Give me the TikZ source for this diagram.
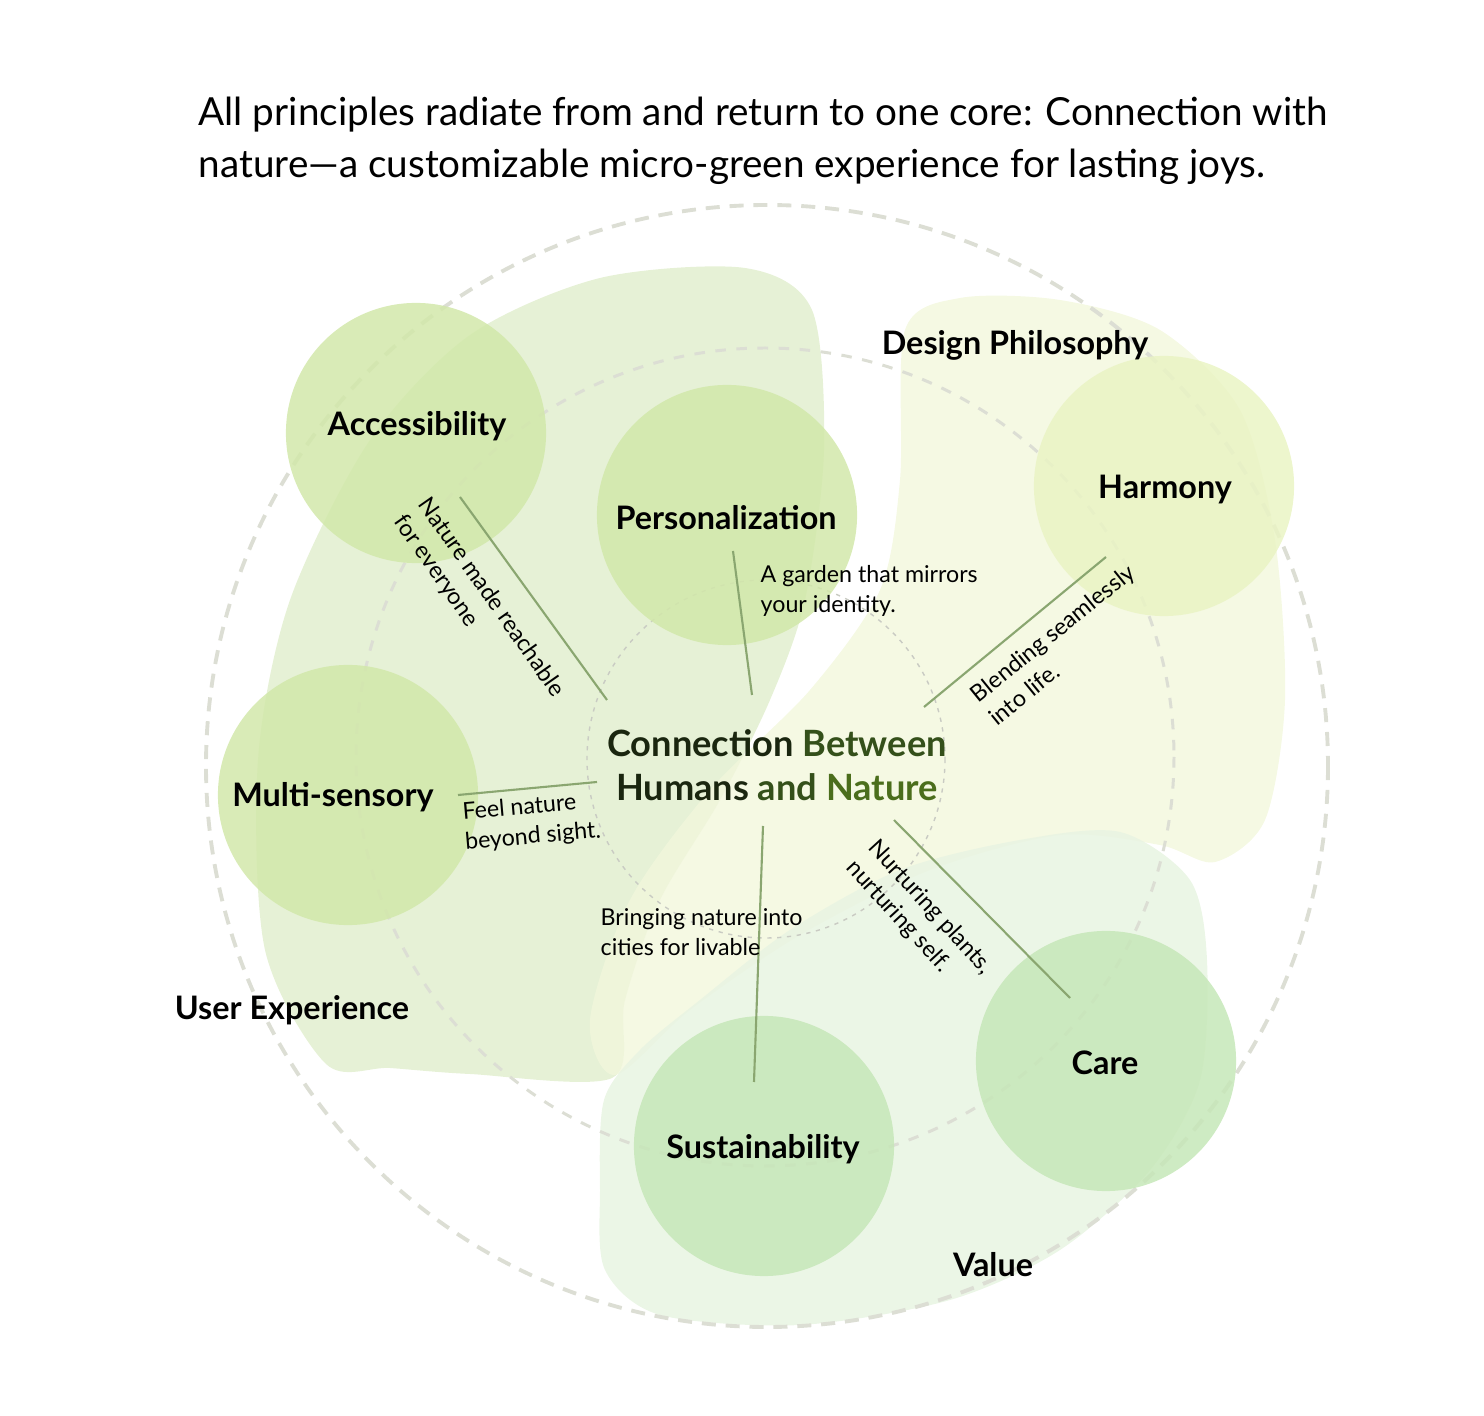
\documentclass[tikz,border=0pt]{standalone}
\usepackage{fontspec}
\setmainfont{Lato}
\usepackage{xcolor}
\usetikzlibrary{positioning}

\definecolor{ringgray}{HTML}{DCDED4}
\definecolor{spokegreen}{HTML}{8AA670}
\definecolor{leaf}{HTML}{D2E8AA}
\definecolor{lime}{HTML}{EAF4C4}
\definecolor{moss}{HTML}{C6E7B8}
\definecolor{blobux}{HTML}{E6F1D6}
\definecolor{blobdp}{HTML}{F2F7DC}
\definecolor{blobval}{HTML}{E8F4E2}
\definecolor{coredark}{HTML}{1A260F}
\definecolor{coremid}{HTML}{34501A}
\definecolor{corelight}{HTML}{4B6E1C}

\newcommand{\titlefont}{\fontsize{11}{14.8}\selectfont}
\newcommand{\pillarfont}{\bfseries\fontsize{9.2}{11}\selectfont}
\newcommand{\corefont}{\bfseries\fontsize{10.3}{12.5}\selectfont}
\newcommand{\notefont}{\fontsize{6.6}{8.5}\selectfont}

\begin{document}
\begin{tikzpicture}[x=0.01cm,y=-0.01cm,
  ring/.style={draw=ringgray,line width=1.1pt,dash pattern=on 4pt off 2.8pt},
  pillar/.style={circle,fill=#1,fill opacity=.85,minimum size=2.6cm,inner sep=0pt},
  tag/.style={font=\pillarfont,text=black},
  spoke/.style={draw=spokegreen,line width=.6pt},
  note/.style={font=\notefont,align=left,anchor=north west,inner sep=0pt},
  realm/.style={font=\pillarfont,text=black}]
  \useasboundingbox (0,0) rectangle (1484,1416);

  % soft background regions
  \fill[blobux] plot[smooth cycle] coordinates {(326,1064) (265,950) (258,760) (290,600)
    (370,440) (470,335) (600,278) (745,268) (812,310) (824,450) (805,600) (770,700)
    (720,800) (660,900) (625,1000) (612,1078) (470,1074) (390,1068)};
  \fill[blobdp,fill opacity=.8] plot[smooth cycle] coordinates {(905,330) (960,298) (1060,300)
    (1160,330) (1240,410) (1275,540) (1285,700) (1265,820) (1215,862) (1160,845)
    (1060,835) (930,870) (800,935) (690,1010) (615,1075) (590,1020) (630,900)
    (710,790) (810,690) (880,590) (900,480)};
  \fill[blobval,fill opacity=.85] plot[smooth cycle] coordinates {(790,930) (900,870) (1020,840)
    (1120,832) (1190,880) (1207,960) (1200,1080) (1150,1170) (1060,1250) (950,1300)
    (800,1325) (660,1315) (605,1270) (600,1190) (604,1100) (640,1050) (700,1000)};

  % rings
  \draw[ring] (767,766) circle (561);
  \draw[ring,line width=.85pt,dash pattern=on 3pt off 3pt] (765,757) circle (409);
  \draw[ringgray!80!gray,line width=.4pt,dash pattern=on 1.2pt off 1.6pt] (766,759) circle (179);

  % pillars
  \node[pillar=leaf] (access) at (416,433) {};
  \node[pillar=leaf] (person) at (727,515) {};
  \node[pillar=lime] (harmony) at (1164,486) {};
  \node[pillar=leaf] (multi) at (348,795) {};
  \node[pillar=moss] (sustain) at (764,1146) {};
  \node[pillar=moss] (care) at (1106,1061) {};

  \node[tag] (access-t) at (417,426) {Accessibility};
  \node[tag] (person-t) at (726,518) {Personalization};
  \node[tag] (harmony-t) at (1165,490) {Harmony};
  \node[tag] (multi-t) at (333,797) {Multi-sensory};
  \node[tag] (sustain-t) at (763,1149) {Sustainability};
  \node[tag] (care-t) at (1105,1063) {Care};

  % core
  \node[font=\corefont,align=center] (core) at (777,765)
    {\textcolor{coredark}{Connection} \textcolor{coremid}{Between}\\
     \textcolor{coredark}{Humans} \textcolor{coremid}{and} \textcolor{corelight}{Nature}};

  % spokes
  \coordinate (access-in) at (607,700);  \coordinate (access-out) at (460,497);
  \coordinate (person-in) at (752,695);  \coordinate (person-out) at (733,551);
  \coordinate (harmony-in) at (924,707); \coordinate (harmony-out) at (1106,557);
  \coordinate (multi-in) at (597,782);   \coordinate (multi-out) at (458,795);
  \coordinate (sustain-in) at (763,826); \coordinate (sustain-out) at (754,1082);
  \coordinate (care-in) at (894,820);    \coordinate (care-out) at (1070,998);
  \foreach \p in {access,person,harmony,multi,sustain,care}
    \draw[spoke] (\p-in) -- (\p-out);

  % notes
  \node[note,rotate=-55] (access-n) at (432,494) {Nature made reachable\\for everyone};
  \node[note] (person-n) at (760,565) {A garden that mirrors\\your identity.};
  \node[note,rotate=39] (harmony-n) at (967,690) {Blending seamlessly\\into life.};
  \node[note,rotate=5] (multi-n) at (461,802) {Feel nature\\beyond sight.};
  \node[note] (sustain-n) at (600,908) {Bringing nature into\\cities for livable};
  \node[note,rotate=-47.5] (care-n) at (880,836) {Nurturing plants,\\nurturing self.};

  % realms
  \node[realm] (dp) at (1015,345) {Design Philosophy};
  \node[realm] (ux) at (292,1010) {User Experience};
  \node[realm] (val) at (993,1265) {Value};

  % title
  \node[font=\titlefont,align=left,anchor=north west,inner sep=0pt] (title) at (198,96)
    {All principles radiate from and return to one core: Connection with\\
     nature---a customizable micro-green experience for lasting joys.};
\end{tikzpicture}
\end{document}
